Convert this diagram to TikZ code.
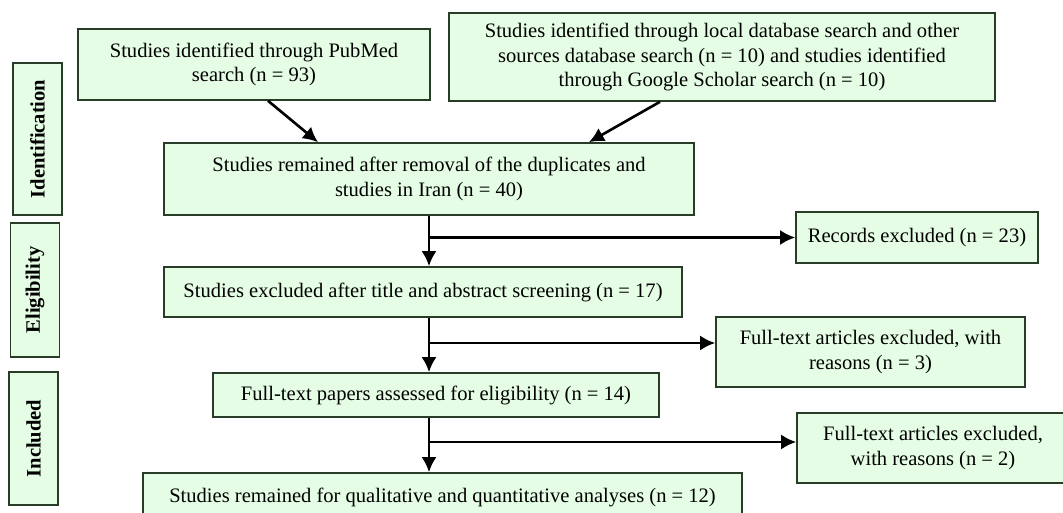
\documentclass[tikz,border=0pt]{standalone}
\usepackage{fontspec}
\setmainfont{Liberation Serif}
\usetikzlibrary{arrows.meta}
\definecolor{boxfill}{RGB}{228,253,228}
\definecolor{boxline}{RGB}{40,60,40}
\begin{document}
\begin{tikzpicture}[x=0.02cm,y=-0.02cm,
    flowbox/.style={draw=boxline,fill=boxfill,line width=0.9pt,align=center,
      inner sep=0pt,font=\fontsize{11.7}{14}\selectfont},
    phasebox/.style={flowbox,rotate=90,font=\fontsize{11.7}{14}\selectfont\bfseries,
      minimum height=0.98cm},
    flowarrow/.style={line width=1.5pt,-{Latex[length=0.3cm,width=0.3cm]}}]
    \clip (0,0) rectangle (1063,513);
    % phases
    \node[phasebox,minimum width=3.04cm] (ident) at (37.5,139) {Identification};
    \node[phasebox,minimum width=2.68cm] (elig) at (35,290) {Eligibility};
    \node[phasebox,minimum width=2.66cm] (incl) at (33.5,438.5) {Included};
    % boxes
    \node[flowbox,minimum width=7.04cm,minimum height=1.42cm] (pubmed) at (254,64.5)
      {Studies identified through PubMed\\search (n = 93)};
    \node[flowbox,minimum width=10.92cm,minimum height=1.76cm] (other) at (722,57)
      {Studies identified through local database search and other\\
       sources database search (n = 10) and studies identified\\
       through Google Scholar search (n = 10)};
    \node[flowbox,minimum width=10.6cm,minimum height=1.44cm] (remained) at (429,179)
      {Studies remained after removal of the duplicates and\\studies in Iran (n = 40)};
    \node[flowbox,minimum width=4.84cm,minimum height=1.02cm] (records) at (917,237.5)
      {Records excluded (n = 23)};
    \node[flowbox,minimum width=10.36cm,minimum height=1.0cm] (screen) at (423,292)
      {Studies excluded after title and abstract screening (n = 17)};
    \node[flowbox,minimum width=6.18cm,minimum height=1.4cm] (fulltexta) at (870.5,352)
      {Full-text articles excluded, with\\reasons (n = 3)};
    \node[flowbox,minimum width=8.92cm,minimum height=0.88cm] (papers) at (436,395)
      {Full-text papers assessed for eligibility (n = 14)};
    \node[flowbox,minimum width=5.44cm,minimum height=1.4cm] (fulltextb) at (933,448)
      {Full-text articles excluded,\\with reasons (n = 2)};
    \node[flowbox,minimum width=11.98cm,minimum height=0.96cm] (final) at (442.5,497)
      {Studies remained for qualitative and quantitative analyses (n = 12)};
    \coordinate (ftaentry) at ([yshift=0.18cm]fulltexta.west);
    \coordinate (ftbentry) at ([yshift=0.12cm]fulltextb.west);
    % arrows
    \draw[flowarrow] ([xshift=0.28cm]pubmed.south) -- ([xshift=-2.22cm]remained.north);
    \draw[flowarrow] ([xshift=-1.24cm]other.south) -- ([xshift=3.2cm]remained.north);
    \draw[flowarrow] (remained.south) -- (remained.south |- screen.north);
    \draw[flowarrow] (remained.south |- records.west) -- (records.west);
    \draw[flowarrow] (remained.south |- screen.south) -- (remained.south |- papers.north);
    \draw[flowarrow] (remained.south |- ftaentry) -- (ftaentry);
    \draw[flowarrow] (remained.south |- papers.south) -- (remained.south |- final.north);
    \draw[flowarrow] (remained.south |- ftbentry) -- (ftbentry);
\end{tikzpicture}
\end{document}
